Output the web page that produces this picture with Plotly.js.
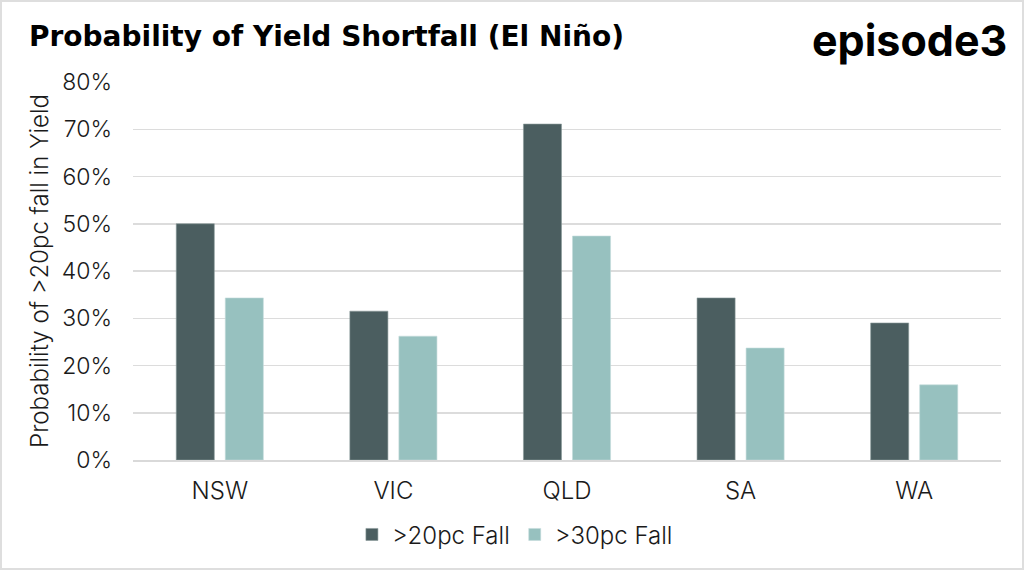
<!DOCTYPE html>
<html>
<head>
<meta charset="utf-8">
<script src="https://cdn.plot.ly/plotly-3.0.1.min.js"></script>
<style>
html,body{margin:0;padding:0;background:#fff;}
#wrap{position:absolute;left:0;top:0;width:1020px;height:566px;border:2px solid #dedede;overflow:hidden;}
#chart{position:absolute;left:-2px;top:-2px;width:1024px;height:570px;}
</style>
</head>
<body>
<div id="wrap"><div id="chart"></div></div>
<script>
const categories = ["NSW", "VIC", "QLD", "SA", "WA"];
const fall20 = [0.50, 0.315, 0.711, 0.343, 0.29];
const fall30 = [0.343, 0.262, 0.474, 0.237, 0.159];
const seriesNames = [">20pc Fall", ">30pc Fall"];
const tickVals = [0, 0.1, 0.2, 0.3, 0.4, 0.5, 0.6, 0.7, 0.8];

const baseFont = {family: "Inter, 'Noto Sans', sans-serif", color: "#1a1a1a", weight: 300};
const yTickFont = Object.assign({}, baseFont, {size: 23});
const xTickFont = Object.assign({}, baseFont, {size: 24});
const yTitleFont = Object.assign({}, baseFont, {size: 24});
const legendFont = Object.assign({}, baseFont, {size: 24});

const traces = [
  {type: "bar", x: categories, y: fall20, name: seriesNames[0],
   marker: {color: "#4b5e60", line: {color: "#8a9a9b", width: 0.6}}},
  {type: "bar", x: categories, y: fall30, name: seriesNames[1],
   marker: {color: "#97c1bf", line: {color: "#c4dcdb", width: 0.6}}}
];

const layout = {
  width: 1024, height: 570,
  margin: {l: 133, r: 23, t: 82, b: 110},
  paper_bgcolor: "rgba(0,0,0,0)", plot_bgcolor: "#fff",
  barmode: "group", bargap: 0.435, bargroupgap: 0.224,
  title: {text: "<b>Probability of Yield Shortfall (El Niño)</b>",
    font: {family: "'DejaVu Sans', sans-serif", size: 28, color: "#000"},
    xref: "container", x: 29/1024, xanchor: "left",
    yref: "container", y: 1 - 36/570, yanchor: "middle"},
  xaxis: {tickfont: xTickFont, showgrid: false, showline: true, linecolor: "#d9d9d9", linewidth: 1.5,
    ticks: "", ticklabelstandoff: 9},
  yaxis: {range: [0, 0.8], tickvals: tickVals, tickformat: ".0%", tickfont: yTickFont,
    gridcolor: "#dcdcdc", gridwidth: 1.5, zeroline: false, ticks: "", ticklabelstandoff: 20,
    title: {text: "Probability of >20pc fall in Yield", font: yTitleFont, standoff: 6}},
  legend: {orientation: "h", x: 0.44, xanchor: "center", y: -0.198, yanchor: "middle",
    font: legendFont, itemwidth: 30, tracegroupgap: 0},
  annotations: [{text: "<b>episode3</b>", xref: "paper", yref: "paper",
    x: 1.009, y: (460 - 40) / 378, xanchor: "right", yanchor: "middle", showarrow: false,
    font: {family: "Inter, 'Noto Sans', sans-serif", size: 43, color: "#000", weight: 800}}],
  showlegend: true
};

Plotly.newPlot("chart", traces, layout, {displayModeBar: false, staticPlot: true});
</script>
</body>
</html>
